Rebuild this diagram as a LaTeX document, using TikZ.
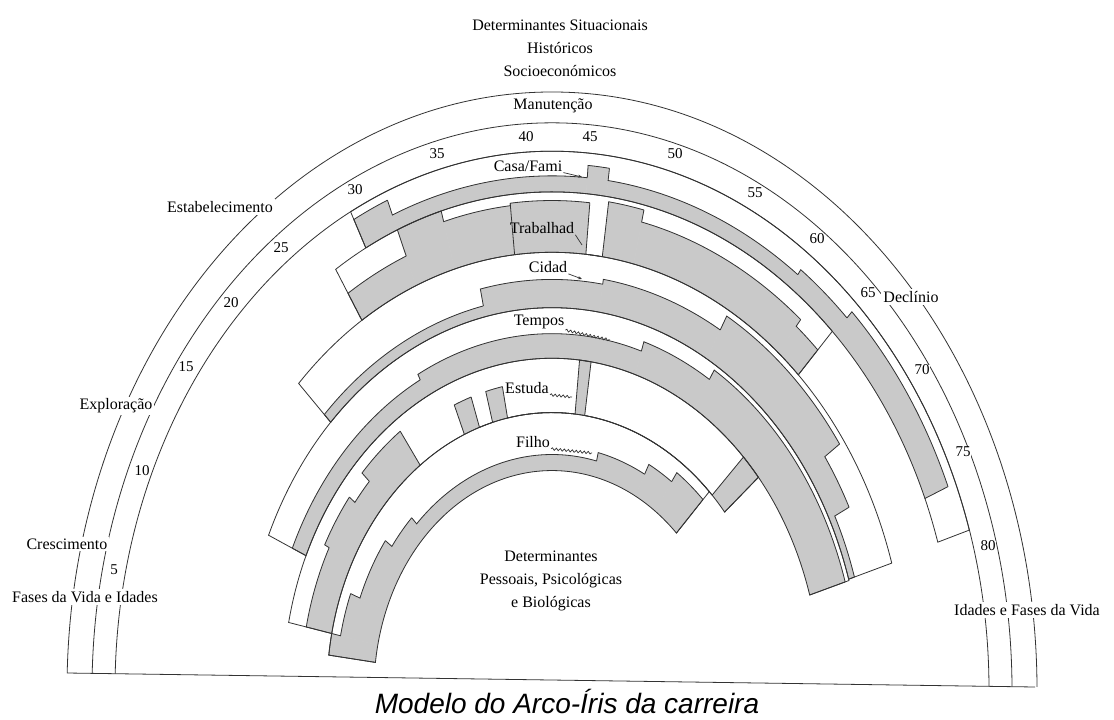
\documentclass[tikz,border=0pt]{standalone}
\usepackage{fontspec}
\setmainfont{Liberation Serif}
\newfontfamily\capfont{Liberation Sans}
\usetikzlibrary{arrows.meta,decorations.pathmorphing}
\newcommand\rainring[4]{%
  \pgfmathsetmacro\rta{ang(#3)}\pgfmathsetmacro\rtb{ang(#4)}%
  \draw[ln] (\rta:#1) -- (\rta:#2) arc[start angle=\rta, end angle=\rtb, radius=#2] -- (\rtb:#1) arc[start angle=\rtb, end angle=\rta, radius=#1] -- cycle;}
\newcommand\rainfill[2]{%
  \foreach \aa/\bb/\rr in #2{%
    \pgfmathsetmacro\rta{ang(\aa)}\pgfmathsetmacro\rtb{ang(\bb)}%
    \filldraw[shd] (\rta:#1) -- (\rta:\rr) arc[start angle=\rta, end angle=\rtb, radius=\rr] -- (\rtb:#1) arc[start angle=\rtb, end angle=\rta, radius=#1] -- cycle;}}
\newcommand\rainedge[2]{%
  \foreach \aa/\bb/\rr [remember=\rr as \prevr (initially #1)] in #2{%
    \pgfmathsetmacro\rta{ang(\aa)}\pgfmathsetmacro\rtb{ang(\bb)}%
    \draw[ln] (\rta:\prevr) -- (\rta:\rr) arc[start angle=\rta, end angle=\rtb, radius=\rr];}}
\newcommand\radline[3]{%
  \pgfmathsetmacro\rta{ang(#1)}%
  \draw[ln] (\rta:#2) -- (\rta:#3);}
\def\dCasa{29.1/31.5/430, 31.5/44.8/417, 44.8/46.2/427, 46.2/60/417, 60/64/422, 64/75.2/429, 75.2/75.21/404}
\def\dTrab{26.7/31.5/381, 31.5/34.7/404, 34.7/39.5/395, 39.5/45.1/397, 45.1/46.4/355, 46.4/48.9/400, 48.9/61.7/390, 61.7/63.8/383, 63.8/63.81/355}
\def\dCid{20.3/36.4/319, 36.4/46.7/333, 46.7/57/337, 57/69.3/350, 69.3/73.3/332, 73.3/78/316, 78/78.01/310}
\def\dTemp{10.3/29/284, 29/51.2/289, 51.2/58/297, 58/78.1/306, 78.1/78.11/269}
\def\dEstu{4.4/12/251, 12/17/256, 17/19.5/249, 19.5/25/259, 25/25.01/225, 31.3/33.3/251, 33.3/35/225, 35/36.9/251, 36.9/45.3/225, 45.3/46.5/269, 46.5/64.5/225, 64.5/66.8/269, 66.8/66.81/225}
\def\dFilho{2.2/4.4/225, 4.4/9/216, 9/16.2/206, 16.2/20.5/198, 20.5/49/191, 49/56/198, 56/59.6/207, 59.6/64/216, 64/64.01/178}
\begin{document}
\begin{tikzpicture}[x=1pt,y=-1pt,
  declare function={ang(\a)=177.3-2.057*\a;},
  lbl/.style={font=\fontsize{16}{19}\selectfont, inner sep=1pt},
  wlbl/.style={lbl, fill=white, inner sep=2pt},
  age/.style={font=\fontsize{15}{17}\selectfont, inner sep=0.3pt, fill=white},
  ln/.style={draw=black!80, line width=0.8pt},
  shd/.style={fill=black!21, draw=black!21, line width=0.4pt},
  tag/.style={draw=black!80, line width=0.7pt},
  squig/.style={tag, decorate, decoration={snake, amplitude=1.2pt, segment length=4pt}}
]
\useasboundingbox (0,0) rectangle (1114,720);
\fill[white] (0,0) rectangle (1114,720);

\begin{scope}
\clip (0,0) -- (1114,0) -- (1114,688.1) -- (0,672) -- cycle;
\begin{scope}[shift={(552,690)}, yscale=-1.233]
  \rainfill{404}{\dCasa}
  \rainfill{355}{\dTrab}
  \rainfill{310}{\dCid}
  \rainfill{269}{\dTemp}
  \rainfill{225}{\dEstu}
  \rainfill{178}{\dFilho}
  \rainedge{404}{\dCasa}
  \rainedge{355}{\dTrab}
  \rainedge{310}{\dCid}
  \rainedge{269}{\dTemp}
  \rainedge{225}{\dEstu}
  \rainedge{178}{\dFilho}
  \radline{39.5}{355}{397}
  \rainring{404}{437}{29.1}{77.8}
  \rainring{355}{404}{26.7}{63.8}
  \rainring{310}{355}{20.3}{78}
  \rainring{269}{310}{10.3}{78.1}
  \rainring{225}{269}{4.4}{66.8}
  \rainring{178}{225}{2.2}{64}
  \draw[ln] (180:485) arc[start angle=180, end angle=0, radius=485];
  \draw[ln] (180:460) arc[start angle=180, end angle=0, radius=460];
  \draw[ln] (180:437) arc[start angle=180, end angle=0, radius=437];
\end{scope}
\end{scope}

\coordinate (bl) at (67,673);
\coordinate (br) at (1035,687);
\draw[ln] (bl) -- (br);

\node[lbl, align=center, font=\fontsize{16}{23}\selectfont] (sit) at (560,48) {Determinantes Situacionais\\Históricos\\Socioeconómicos};
\node[lbl, align=center, font=\fontsize{16}{23}\selectfont] (pess) at (551,581) {Determinantes\\Pessoais, Psicológicas\\e Biológicas};
\node[font=\capfont\itshape\fontsize{28}{30}\selectfont, inner sep=0pt] (cap) at (567,701) {Modelo do Arco-Íris da carreira};

\node[lbl] (manut) at (553,106) {Manutenção};
\node[wlbl] (estab) at (220,207) {Estabelecimento};
\node[wlbl] (explo) at (116,406) {Exploração};
\node[wlbl] (cresc) at (67,544) {Crescimento};
\node[wlbl] (fases) at (85,597) {Fases da Vida e Idades};
\node[wlbl] (idades) at (1027,610) {Idades e Fases da Vida};
\node[wlbl] (declin) at (911,297) {Declínio};

\node[age] (a5) at (114,570) {5};
\node[age] (a10) at (142,471) {10};
\node[age] (a15) at (186,367) {15};
\node[age] (a20) at (231,303) {20};
\node[age] (a25) at (281,248) {25};
\node[age] (a30) at (355,190) {30};
\node[age] (a35) at (437,154) {35};
\node[age] (a40) at (526,137) {40};
\node[age] (a45) at (590,137) {45};
\node[age] (a50) at (675,154) {50};
\node[age] (a55) at (755,193) {55};
\node[age] (a60) at (817,239) {60};
\node[age] (a65) at (868,293) {65};
\node[age] (a70) at (922,370) {70};
\node[age] (a75) at (963,452) {75};
\node[age] (a80) at (988,546) {80};

\node[lbl] (casa) at (528,166) {Casa/Fami};
\node[lbl] (trab) at (542,228) {Trabalhad};
\node[lbl] (cid) at (548,267) {Cidad};
\node[lbl] (temp) at (539,322) {Tempos};
\node[lbl] (estu) at (527,388) {Estuda};
\node[lbl] (filho) at (533,442) {Filho};

\coordinate (casaE) at (582,177);
\coordinate (trabE) at (582,245);
\coordinate (cidE) at (582,279);
\coordinate (tempE) at (610,340);
\coordinate (estuE) at (572,397);
\coordinate (filhoE) at (592,453);
\draw[tag, -{Stealth[length=4pt, width=3pt]}] (casa.south east) -- (casaE);
\draw[tag] (trab.south east) -- (trabE);
\draw[tag, -{Stealth[length=4pt, width=3pt]}] (cid.south east) -- (cidE);
\draw[squig] (temp.south east) -- (tempE);
\draw[squig] (estu.south east) -- (estuE);
\draw[squig] (filho.south east) -- (filhoE);
\end{tikzpicture}
\end{document}
